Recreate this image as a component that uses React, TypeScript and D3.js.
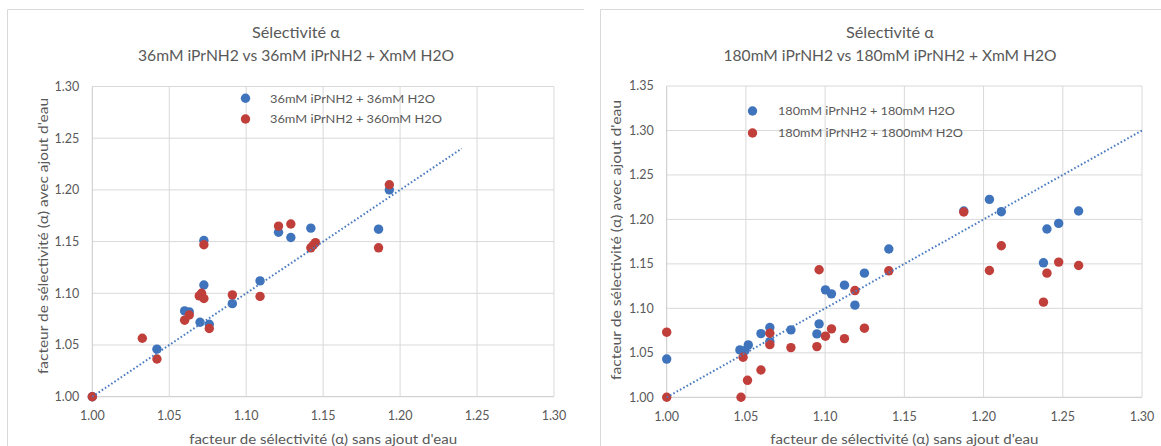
import React from "react";
import * as d3 from "d3";

// ---------- DATA ----------
const xTickValues = [1.0, 1.05, 1.1, 1.15, 1.2, 1.25, 1.3];
const leftYTickValues = [1.0, 1.05, 1.1, 1.15, 1.2, 1.25, 1.3];
const rightYTickValues = [1.0, 1.05, 1.1, 1.15, 1.2, 1.25, 1.3, 1.35];

const leftTitle = ["Sélectivité α", "36mM iPrNH2 vs 36mM iPrNH2 + XmM H2O"];
const rightTitle = ["Sélectivité α", "180mM iPrNH2 vs 180mM iPrNH2 + XmM H2O"];
const xAxisTitle = "facteur de sélectivité (α) sans ajout d'eau";
const yAxisTitle = "facteur de sélectivité (α) avec ajout d'eau";

const leftSeriesNames = ["36mM iPrNH2 + 36mM H2O", "36mM iPrNH2 + 360mM H2O"];
const rightSeriesNames = ["180mM iPrNH2 + 180mM H2O", "180mM iPrNH2 + 1800mM H2O"];

// Left chart: 36mM iPrNH2 + 36mM H2O
const leftBlueX = [1.0, 1.042, 1.06, 1.063, 1.07, 1.076, 1.0725, 1.0725, 1.091, 1.109, 1.121, 1.129, 1.142, 1.186, 1.193];
const leftBlueY = [1.0, 1.046, 1.083, 1.082, 1.072, 1.07, 1.108, 1.151, 1.09, 1.112, 1.159, 1.154, 1.163, 1.162, 1.2];
// Left chart: 36mM iPrNH2 + 360mM H2O
const leftRedX = [1.0, 1.0325, 1.042, 1.06, 1.063, 1.071, 1.0695, 1.0725, 1.076, 1.091, 1.109, 1.0725, 1.121, 1.129, 1.142, 1.1435, 1.145, 1.186, 1.193];
const leftRedY = [1.0, 1.0565, 1.0365, 1.074, 1.079, 1.1, 1.0975, 1.095, 1.066, 1.0985, 1.097, 1.147, 1.165, 1.167, 1.144, 1.1465, 1.149, 1.144, 1.205];

// Right chart: 180mM iPrNH2 + 180mM H2O
const rightBlueX = [1.0, 1.0462, 1.0494, 1.0515, 1.0595, 1.0651, 1.0651, 1.0784, 1.0962, 1.0948, 1.1002, 1.104, 1.1122, 1.1188, 1.1248, 1.1402, 1.1875, 1.2037, 1.2112, 1.2378, 1.24, 1.2474, 1.26];
const rightBlueY = [1.043, 1.0533, 1.0525, 1.0589, 1.0716, 1.0784, 1.0626, 1.0758, 1.0825, 1.0713, 1.1208, 1.1163, 1.1261, 1.1036, 1.1396, 1.1667, 1.2095, 1.2225, 1.2087, 1.1512, 1.1892, 1.1955, 1.2095];
// Right chart: 180mM iPrNH2 + 1800mM H2O
const rightRedX = [1.0, 1.0, 1.0469, 1.0482, 1.051, 1.0595, 1.0651, 1.0651, 1.0784, 1.0962, 1.0948, 1.1002, 1.104, 1.1122, 1.1188, 1.1248, 1.1402, 1.1875, 1.2037, 1.2112, 1.2378, 1.24, 1.2474, 1.26];
const rightRedY = [1.0, 1.0732, 1.0, 1.045, 1.0191, 1.0307, 1.072, 1.0592, 1.0559, 1.1434, 1.057, 1.0687, 1.0769, 1.066, 1.12, 1.0777, 1.1422, 1.2083, 1.1426, 1.1704, 1.107, 1.1396, 1.152, 1.1482];

// Trendline (y = x) extents
const leftTrendX = [1.0, 1.24];
const rightTrendX = [1.0, 1.3];

// ---------- STYLE ----------
const BLUE = "#3f74bd";
const RED = "#c03f3a";
const TREND = "#4a7bbf";
const GRID = "#d9d9d9";
const TEXT = "#595959";
const FONT = "Lato, 'Open Sans', sans-serif";

type PanelProps = {
  frame: { x0: number; x1: number; y0: number };
  plot: { left: number; right: number; top: number; bottom: number };
  yDomain: [number, number];
  yTicks: number[];
  title: string[];
  titleCx: number;
  titleWidths: [number, number];
  yTitleX: number;
  yTitleCy: number;
  yTitleLen: number;
  xTitleLen: number;
  legend: { dotX: number; textX: number; y1: number; y2: number; lens: [number, number] };
  names: string[];
  blueX: number[];
  blueY: number[];
  redX: number[];
  redY: number[];
  trendX: number[];
};

function Panel(p: PanelProps) {
  const x = d3.scaleLinear().domain([1.0, 1.3]).range([p.plot.left, p.plot.right]);
  const y = d3.scaleLinear().domain(p.yDomain).range([p.plot.bottom, p.plot.top]);
  const fmt = d3.format(".2f");
  const line = d3
    .line<number>()
    .x((d) => x(d))
    .y((d) => y(d));
  const xMid = (p.plot.left + p.plot.right) / 2;
  const r = 4.7;

  return (
    <g>
      {/* frame */}
      <line x1={p.frame.x0} x2={p.frame.x1} y1={p.frame.y0} y2={p.frame.y0} stroke={GRID} strokeWidth={1} />
      <line x1={p.frame.x0} x2={p.frame.x0} y1={p.frame.y0} y2={446} stroke={GRID} strokeWidth={1} />

      {/* gridlines */}
      {p.yTicks.map((t) => (
        <line key={"gy" + t} x1={p.plot.left} x2={p.plot.right} y1={y(t)} y2={y(t)} stroke={t === p.yDomain[0] ? "#c8c8c8" : GRID} strokeWidth={1} />
      ))}
      {xTickValues.map((t) => (
        <line key={"gx" + t} x1={x(t)} x2={x(t)} y1={p.plot.top} y2={p.plot.bottom} stroke={t === 1.0 ? "#c8c8c8" : GRID} strokeWidth={1} />
      ))}

      {/* tick labels */}
      {p.yTicks.map((t) => (
        <text key={"ly" + t} x={p.plot.left - 13} y={y(t)} dy="0.35em" textAnchor="end" fontSize={12.5} fill={TEXT} fontFamily={FONT}>
          {fmt(t)}
        </text>
      ))}
      {xTickValues.map((t) => (
        <text key={"lx" + t} x={x(t)} y={p.plot.bottom + 19} dy="0.35em" textAnchor="middle" fontSize={12.5} fill={TEXT} fontFamily={FONT}>
          {fmt(t)}
        </text>
      ))}

      {/* markers */}
      {p.blueX.map((v, i) => (
        <circle key={"b" + i} cx={x(v)} cy={y(p.blueY[i])} r={r} fill={BLUE} />
      ))}
      {p.redX.map((v, i) => (
        <circle key={"r" + i} cx={x(v)} cy={y(p.redY[i])} r={r} fill={RED} />
      ))}

      {/* trendline y = x */}
      <path d={line(p.trendX) || ""} fill="none" stroke={TREND} strokeWidth={2} strokeDasharray="1.6 2.2" />

      {/* legend */}
      <circle cx={p.legend.dotX} cy={p.legend.y1} r={r} fill={BLUE} />
      <circle cx={p.legend.dotX} cy={p.legend.y2} r={r} fill={RED} />
      <text x={p.legend.textX} y={p.legend.y1} dy="0.35em" fontSize={12} fill={TEXT} fontFamily={FONT} textLength={p.legend.lens[0]} lengthAdjust="spacingAndGlyphs">
        {p.names[0]}
      </text>
      <text x={p.legend.textX} y={p.legend.y2} dy="0.35em" fontSize={12} fill={TEXT} fontFamily={FONT} textLength={p.legend.lens[1]} lengthAdjust="spacingAndGlyphs">
        {p.names[1]}
      </text>

      {/* title */}
      <text x={p.titleCx} y={33} dy="0.35em" textAnchor="middle" fontSize={15} fill={TEXT} fontFamily={FONT} textLength={p.titleWidths[0]} lengthAdjust="spacingAndGlyphs">
        {p.title[0]}
      </text>
      <text x={p.titleCx} y={56} dy="0.35em" textAnchor="middle" fontSize={15} fill={TEXT} fontFamily={FONT} textLength={p.titleWidths[1]} lengthAdjust="spacingAndGlyphs">
        {p.title[1]}
      </text>

      {/* axis titles */}
      <text x={xMid} y={439} dy="0.35em" textAnchor="middle" fontSize={13.5} fill={TEXT} fontFamily={FONT} textLength={p.xTitleLen} lengthAdjust="spacingAndGlyphs">
        {xAxisTitle}
      </text>
      <text
        transform={`translate(${p.yTitleX},${p.yTitleCy}) rotate(-90)`}
        x={0}
        y={0}
        dy="0.35em"
        textAnchor="middle"
        fontSize={13.5}
        fill={TEXT}
        fontFamily={FONT}
        textLength={p.yTitleLen}
        lengthAdjust="spacingAndGlyphs"
      >
        {yAxisTitle}
      </text>
    </g>
  );
}

export default function App() {
  return (
    <svg
      width={1161}
      height={446}
      viewBox="0 0 1161 446"
      style={{ position: "absolute", left: 0, top: 0, background: "#fff" }}
    >
      <rect x={0} y={0} width={1161} height={446} fill="#fff" />
      <Panel
        frame={{ x0: 7.5, x1: 584, y0: 9.5 }}
        plot={{ left: 92.3, right: 554, top: 86.5, bottom: 396.7 }}
        yDomain={[1.0, 1.3]}
        yTicks={leftYTickValues}
        title={leftTitle}
        titleCx={296}
        titleWidths={[88, 316]}
        yTitleX={43}
        yTitleCy={236}
        yTitleLen={276}
        xTitleLen={268}
        legend={{ dotX: 245.5, textX: 270, y1: 98.3, y2: 119, lens: [165, 172] }}
        names={leftSeriesNames}
        blueX={leftBlueX}
        blueY={leftBlueY}
        redX={leftRedX}
        redY={leftRedY}
        trendX={leftTrendX}
      />
      <Panel
        frame={{ x0: 600.5, x1: 1161, y0: 9.5 }}
        plot={{ left: 666.7, right: 1142, top: 86, bottom: 397.3 }}
        yDomain={[1.0, 1.35]}
        yTicks={rightYTickValues}
        title={rightTitle}
        titleCx={890}
        titleWidths={[88, 333]}
        yTitleX={616}
        yTitleCy={240}
        yTitleLen={280}
        xTitleLen={268}
        legend={{ dotX: 752.5, textX: 778, y1: 111, y2: 133, lens: [177, 185] }}
        names={rightSeriesNames}
        blueX={rightBlueX}
        blueY={rightBlueY}
        redX={rightRedX}
        redY={rightRedY}
        trendX={rightTrendX}
      />
    </svg>
  );
}
